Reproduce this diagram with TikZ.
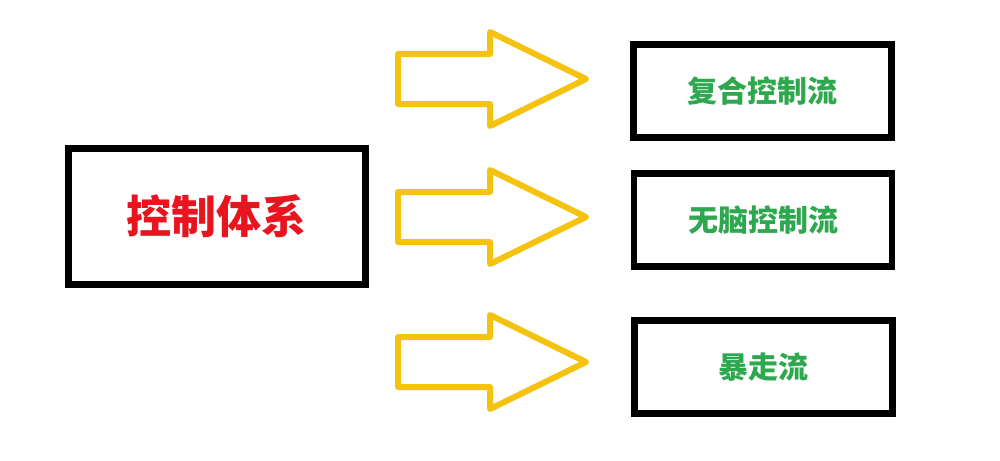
\documentclass[tikz,border=0pt]{standalone}
\usepackage{fontspec}
\newfontfamily\cjk{Noto Sans CJK SC}
\definecolor{arrowyellow}{HTML}{F4C20F}
\definecolor{labelred}{HTML}{E8141E}
\definecolor{labelgreen}{HTML}{2EA84E}
\tikzset{
  mainbox/.style={draw=black, line width=7pt, minimum width=297pt, minimum height=136pt, inner sep=0pt,
    font=\cjk\bfseries\fontsize{45}{50}\selectfont, text=labelred},
  subbox/.style={draw=black, line width=6.5pt, minimum width=258pt, minimum height=93pt, inner sep=0pt,
    font=\cjk\bfseries\fontsize{30}{34}\selectfont, text=labelgreen},
  blockarrow/.style={draw=arrowyellow, line width=6pt, line join=round, fill=white}
}
\newcommand{\blockarr}[2]{% #1 = left x, #2 = centre y
  \draw[blockarrow] (#1,#2-25) -- (490,#2-25) -- (490,#2-47) -- (586,#2) -- (490,#2+47) -- (490,#2+25) -- (#1,#2+25) -- cycle;
}
\begin{document}
\begin{tikzpicture}[x=1pt,y=-1pt]
  \useasboundingbox[fill=white] (0,0) rectangle (1000,460);
  \node[mainbox] (sys) at (216.5,216) {控制体系};
  \node[subbox] (a) at (762.5,91) {复合控制流};
  \node[subbox] (b) at (763,220) {无脑控制流};
  \node[subbox] (c) at (763.5,367) {暴走流};
  \blockarr{398}{79}
  \blockarr{398}{217}
  \blockarr{398}{362}
\end{tikzpicture}
\end{document}
